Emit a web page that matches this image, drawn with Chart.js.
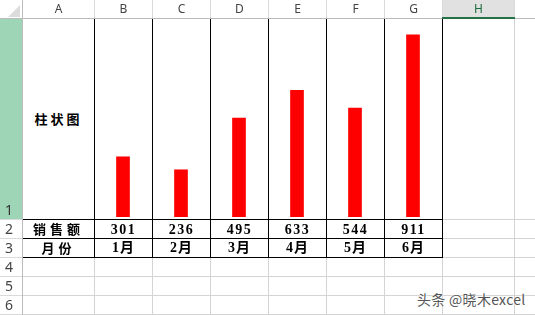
<!DOCTYPE html>
<html><head><meta charset="utf-8">
<script src="https://cdn.jsdelivr.net/npm/chart.js@4"></script>
<style>
html,body{margin:0;padding:0;background:#fff;width:535px;height:315px;overflow:hidden;}
#wrap{position:relative;width:535px;height:315px;}
.l{position:absolute;}
.t{position:absolute;white-space:nowrap;text-align:center;}
.hdr{font-family:"Noto Sans","DejaVu Sans",sans-serif;font-size:12px;color:#444;}
.rn{font-family:"Noto Sans","DejaVu Sans",sans-serif;font-size:14px;color:#444;}
.cell{font-family:"Liberation Serif","Noto Sans CJK SC",serif;font-weight:bold;font-size:14px;color:#000;}
.cjk{font-family:"Noto Sans CJK SC",sans-serif;font-weight:bold;font-size:13px;color:#000;}
#c{position:absolute;left:94px;top:0;}
</style></head>
<body><div id="wrap"><canvas id="c" width="348" height="219"></canvas></div>
<script>
const columns = ['A','B','C','D','E','F','G','H'];
const rowNums = ['1','2','3','4','5','6'];
const rowLabels = ['柱状图','销售额','月份'];
const months = ['1月','2月','3月','4月','5月','6月'];
const sales = [301, 236, 495, 633, 544, 911];
const watermark = '头条 @晓木excel';

const wrap = document.getElementById('wrap');
function box(x,y,w,h,c){const d=document.createElement('div');d.className='l';d.style.cssText=`left:${x}px;top:${y}px;width:${w}px;height:${h}px;background:${c}`;wrap.appendChild(d);return d;}
function txt(s,cls,x,y,w,h,extra){const d=document.createElement('div');d.className='t '+cls;d.textContent=s;d.style.cssText=`left:${x}px;top:${y}px;width:${w}px;height:${h}px;line-height:${h}px;`+(extra||'');wrap.appendChild(d);return d;}

// geometry
const colLines=[22,94,152,210,268,326,384,442,514];
const rowLines=[18,219,238,257,276,295,314];
const grey='#d4d4d4';

// H header highlight
box(443,0,71,17,'#e1e1e1');
// row 1 header highlight
box(0,19,22,200,'#9fd5b7');
// corner triangle
const tri=document.createElement('div');tri.className='l';
tri.style.cssText='left:8px;top:5px;width:0;height:0;border-left:12px solid transparent;border-bottom:12px solid #dcdcdc;';
wrap.appendChild(tri);

// header separators
for(let i=1;i<colLines.length;i++) box(colLines[i],0,1,18,'#dadada');
box(0,18,535,1,'#bcbcbc');
box(442,17,73,2,'#217346');
box(22,0,1,315,'#bcbcbc');
for(let i=1;i<rowLines.length;i++) box(0,rowLines[i],22,1,'#dadada');

// cell grid (grey) rows 4-6 and column H onward
for(let i=3;i<rowLines.length;i++) box(23,rowLines[i],512,1,grey);
for(let i=1;i<3;i++) box(443,rowLines[i],92,1,grey);
box(443,257,92,1,grey);
for(let i=1;i<colLines.length-1;i++) box(colLines[i],258,1,57,grey);
box(514,19,1,296,grey);

// black borders
for(let i=1;i<colLines.length-1;i++) box(colLines[i],19,1,239,'#000');
box(23,219,420,1,'#000');
box(23,238,420,1,'#000');
box(23,257,420,1,'#000');

// column header labels
columns.forEach((c,i)=>{const x0=colLines[i]+1,x1=colLines[i+1];
  const d=txt(c,'hdr',x0,0,x1-x0,18); if(c==='H') d.style.color='#1e6b41';});
// row numbers
const rowTops=[19,220,239,258,277,296];
const rowBots=[219,238,257,276,295,314];
rowNums.forEach((r,i)=>{
  if(i===0){txt(r,'rn',0,200,20,19,'text-align:left;padding-left:5px;color:#333;');}
  else txt(r,'rn',0,rowTops[i],20,rowBots[i]-rowTops[i],'text-align:left;padding-left:5px;');
});

// column A labels
txt(rowLabels[0],'cjk',23,109,71,20,'letter-spacing:3px;');
txt(rowLabels[1],'cjk',23,220,71,18,'letter-spacing:4px;');
txt(rowLabels[2],'cjk',23,239,71,18,'letter-spacing:4px;');
// values and months
sales.forEach((v,i)=>{const x0=colLines[i+1]+1,x1=colLines[i+2];
  txt(String(v),'cell',x0,220,x1-x0,19,'letter-spacing:1.5px;');
  txt(months[i],'cell',x0,239,x1-x0,18,'letter-spacing:1px;');
});

// watermark
txt(watermark,'',417,289,116,20,'font-family:"Noto Sans CJK SC",sans-serif;font-size:14px;letter-spacing:0.3px;color:#555;text-align:left;text-shadow:0 0 2px #fff,0 0 2px #fff;');

new Chart(document.getElementById('c'),{
  type:'bar',
  data:{labels:months,datasets:[{data:sales,backgroundColor:'#ff0000',borderWidth:0,barThickness:13}]},
  options:{responsive:false,animation:false,devicePixelRatio:1,
    layout:{padding:{top:17,bottom:2,left:0,right:0}},
    plugins:{legend:{display:false},tooltip:{enabled:false}},
    scales:{x:{display:false},y:{display:false,min:0,max:1000}}}
});
</script></body></html>
